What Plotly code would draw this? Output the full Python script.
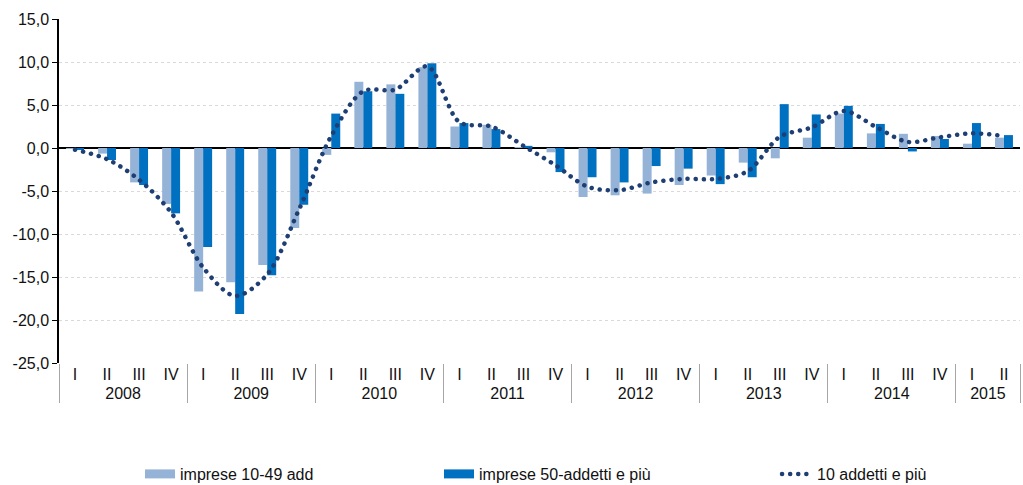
import plotly.graph_objects as go

years = ["2008"] * 4 + ["2009"] * 4 + ["2010"] * 4 + ["2011"] * 4 + ["2012"] * 4 + ["2013"] * 4 + ["2014"] * 4 + ["2015"] * 2
quarters = ["I", "II", "III", "IV"] * 7 + ["I", "II"]

small_firms = [-0.1, -0.65, -4.0, -6.5,
               -16.7, -15.6, -13.6, -9.3,
               -0.8, 7.7, 7.4, 9.4,
               2.5, 2.7, 0.1, -0.5,
               -5.7, -5.5, -5.3, -4.3,
               -3.2, -1.7, -1.2, 1.2,
               4.0, 1.7, 1.65, 1.4,
               0.5, 1.2]
large_firms = [-0.2, -1.4, -4.3, -7.6,
               -11.5, -19.3, -14.8, -6.6,
               4.0, 6.6, 6.3, 9.85,
               2.9, 2.2, 0.25, -2.8,
               -3.4, -4.0, -2.1, -2.4,
               -4.2, -3.4, 5.1, 3.9,
               4.9, 2.8, -0.4, 1.05,
               2.9, 1.5]
total = [-0.2, -1.3, -3.7, -7.5,
         -13.9, -17.2, -14.7, -7.1,
         1.4, 6.6, 6.8, 9.5,
         3.0, 2.5, 0.25, -2.0,
         -4.5, -4.9, -4.0, -3.6,
         -3.6, -2.7, 1.3, 2.4,
         4.3, 2.45, 0.7, 1.25,
         1.7, 1.4]

names = ["imprese 10-49 add", "imprese 50-addetti e più", "10 addetti e più"]
y_ticks = [-25, -20, -15, -10, -5, 0, 5, 10, 15]
y_text = [f"{v:.1f}".replace(".", ",") for v in y_ticks]

c_light = "#95B3D7"
c_dark = "#0070C0"
c_line = "#1F3F74"
FONT = "Liberation Sans, Arial, sans-serif"
FS = 16

x = [years, quarters]
fig = go.Figure()
fig.add_trace(go.Bar(x=x, y=small_firms, name=names[0], marker=dict(color=c_light, line=dict(width=0)),
                     showlegend=False))
fig.add_trace(go.Bar(x=x, y=large_firms, name=names[1], marker=dict(color=c_dark, line=dict(width=0)),
                     showlegend=False))
fig.add_trace(go.Scatter(x=x, y=total, name=names[2], mode="lines",
                         line=dict(color=c_line, width=4.5, dash="0.1px,8px", shape="spline", smoothing=0.9),
                         legend="legend3"))
# legend swatches on a hidden helper axis
fig.add_trace(go.Scatter(x=[None], y=[None], name=names[0], mode="lines", xaxis="x2", yaxis="y2",
                         line=dict(color=c_light, width=9), legend="legend"))
fig.add_trace(go.Scatter(x=[None], y=[None], name=names[1], mode="lines", xaxis="x2", yaxis="y2",
                         line=dict(color=c_dark, width=9), legend="legend2"))

pw = 1023 - 59 - 3
def lx(px):
    return (px - 59) / pw
ly = (363 - 474) / 344

leg_common = dict(orientation="h", yanchor="middle", y=ly, xanchor="left",
                  font=dict(family=FONT, size=FS, color="#111"), bgcolor="rgba(0,0,0,0)")

fig.update_layout(
    width=1023, height=485,
    margin=dict(l=59, r=3, t=19, b=122, autoexpand=False),
    plot_bgcolor="white", paper_bgcolor="white",
    barmode="group", bargap=0.44, bargroupgap=0,
    separators=",.",
    font=dict(family=FONT, size=FS, color="#111"),
    legend=dict(x=lx(140), **leg_common),
    legend2=dict(x=lx(439), **leg_common),
    legend3=dict(x=lx(777), **leg_common),
    yaxis=dict(range=[-25, 15], tickvals=y_ticks, ticktext=y_text, automargin=False,
               showgrid=True, gridcolor="#D9D9D9", griddash="dot", gridwidth=1,
               zeroline=True, zerolinecolor="black", zerolinewidth=1.5,
               showline=True, linecolor="black", linewidth=1.5,
               ticks="outside", ticklen=5, tickcolor="black",
               tickfont=dict(family=FONT, size=FS, color="#111")),
    xaxis=dict(type="multicategory", showgrid=False, showline=False, automargin=False,
               ticks="",
               showdividers=True, dividercolor="#A6A6A6", dividerwidth=1,
               tickfont=dict(family=FONT, size=FS, color="#111")),
    xaxis2=dict(visible=False, overlaying="x", range=[0, 1]),
    yaxis2=dict(visible=False, overlaying="y", range=[0, 1]),
)

post = """
var s=document.createElement('style');
s.innerHTML='html,body{margin:0;padding:0;overflow:hidden;} path.js-line[style*="dasharray"] {stroke-linecap: round;}';
document.head.appendChild(s);
"""
fig.write_html("out.html", post_script=post, config={"displayModeBar": False})
